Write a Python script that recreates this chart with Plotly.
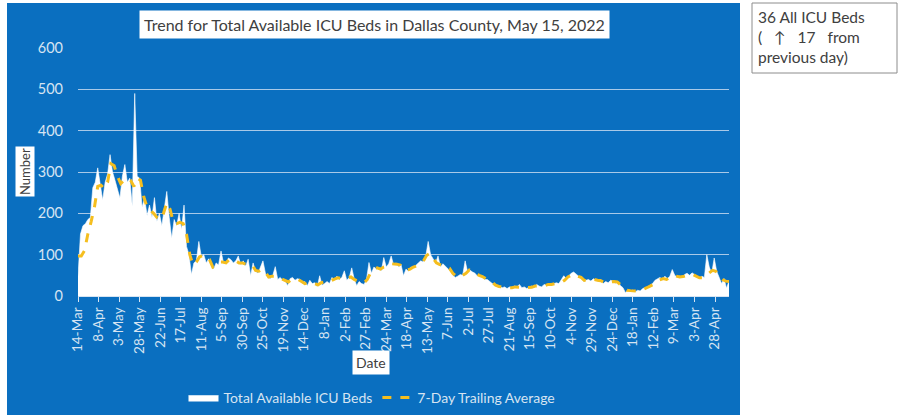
import pandas as pd
import plotly.graph_objects as go

# ---------------- data ----------------
start_date = "2020-03-14"
# daily total available ICU beds, sampled every 3 days
daily_beds = [
    47, 150, 170, 175, 185, 190, 262, 275, 310, 265,
    232, 275, 295, 342, 300, 280, 255, 237, 290, 318,
    275, 285, 217, 490, 290, 285, 215, 237, 195, 220,
    190, 238, 180, 200, 170, 215, 253, 190, 140, 185,
    170, 200, 160, 220, 120, 100, 52, 80, 85, 132,
    95, 100, 80, 90, 75, 65, 80, 75, 109, 80,
    78, 92, 88, 80, 85, 97, 75, 85, 72, 89,
    49, 80, 60, 55, 70, 85, 55, 45, 42, 50,
    71, 40, 45, 38, 36, 25, 42, 45, 38, 42,
    40, 30, 35, 25, 38, 30, 32, 22, 49, 26,
    30, 35, 30, 45, 38, 48, 40, 45, 61, 38,
    45, 68, 42, 25, 35, 30, 28, 40, 81, 55,
    70, 65, 69, 60, 93, 70, 78, 97, 75, 80,
    70, 76, 49, 65, 60, 70, 68, 75, 80, 85,
    82, 95, 132, 100, 90, 80, 97, 70, 78, 72,
    65, 60, 50, 45, 48, 52, 50, 85, 58, 62,
    58, 55, 48, 50, 45, 40, 40, 35, 30, 28,
    22, 24, 20, 22, 18, 22, 20, 24, 22, 28,
    20, 22, 18, 22, 24, 20, 28, 24, 22, 28,
    26, 30, 28, 30, 32, 30, 38, 49, 42, 50,
    55, 58, 52, 48, 45, 35, 38, 40, 36, 42,
    38, 35, 40, 30, 35, 32, 38, 36, 30, 35,
    25, 20, 8, 15, 12, 14, 10, 14, 12, 18,
    20, 22, 26, 30, 38, 42, 45, 40, 48, 42,
    48, 64, 50, 45, 48, 44, 52, 55, 50, 56,
    52, 45, 42, 48, 45, 100, 70, 55, 92, 60,
    45, 30, 42, 19, 36,
]
# 7-day trailing average, sampled every 4 days
avg_7day = [
    97, 97, 110, 150, 180, 215, 265, 268, 260, 275,
    320, 315, 290, 272, 280, 285, 280, 265, 285, 280,
    240, 215, 207, 200, 190, 185, 200, 225, 210, 178,
    175, 178, 175, 150, 100, 75, 82, 95, 98, 90,
    88, 70, 75, 82, 82, 80, 88, 85, 85, 80,
    80, 77, 77, 75, 62, 60, 65, 58, 46, 48,
    48, 44, 40, 36, 34, 40, 40, 40, 35, 30,
    32, 33, 30, 27, 32, 34, 33, 38, 41, 44,
    43, 41, 44, 46, 40, 37, 33, 32, 40, 56,
    65, 68, 65, 70, 72, 78, 78, 77, 75, 65,
    63, 65, 70, 73, 80, 84, 98, 103, 92, 80,
    76, 75, 70, 67, 55, 48, 45, 50, 55, 63,
    60, 56, 50, 47, 42, 38, 33, 26, 23, 22,
    20, 20, 20, 22, 22, 21, 20, 20, 21, 24,
    24, 24, 25, 28, 28, 30, 31, 33, 38, 46,
    50, 53, 48, 45, 38, 36, 38, 40, 38, 37,
    33, 32, 34, 35, 34, 28, 22, 14, 13, 12,
    12, 13, 16, 20, 24, 28, 36, 40, 42, 40,
    45, 50, 48, 46, 47, 50, 52, 52, 48, 44,
    44, 50, 55, 62, 60, 48, 40, 36, 35,
]
title_text = "Trend for Total Available ICU Beds in Dallas County, May 15, 2022"
series_names = ["Total Available ICU Beds", "7-Day Trailing Average"]
box_lines = ["36 All ICU Beds", "(&nbsp;&nbsp;&nbsp;↑&nbsp;&nbsp;&nbsp;17&nbsp;&nbsp;&nbsp;from", "previous day)"]

daily_dates = pd.date_range(start_date, periods=len(daily_beds), freq="3D")
avg_dates = pd.date_range(start_date, periods=len(avg_7day), freq="4D")

# ---------------- styling ----------------
W, H = 899, 415
L, R, T, B = 78, 729, 48, 296      # plot area in pixels
BLUE = "#0A6FC0"
LIGHT = "#D6E4F2"
GOLD = "#F5BE1E"
DARK = "#404040"
FONT = "Lato"

def px(x):   # pixel -> paper x (paper = plot area)
    return (x - L) / (R - L)

def py(y):   # pixel -> paper y
    return (B - y) / (B - T)

fig = go.Figure()
fig.add_trace(go.Scatter(
    x=daily_dates, y=daily_beds, name=series_names[0], mode="lines",
    line=dict(color="white", width=0.6), fill="tozeroy", fillcolor="white",
))
fig.add_trace(go.Scatter(
    x=avg_dates, y=avg_7day, name=series_names[1], mode="lines",
    line=dict(color=GOLD, width=3, dash="dash"),
))

fig.update_layout(
    width=W, height=H,
    margin=dict(l=L, r=W - R, t=T, b=H - B, autoexpand=False),
    paper_bgcolor="white", plot_bgcolor=BLUE,
    font=dict(family=FONT, color=LIGHT, size=13),
    showlegend=True,
    legend=dict(orientation="h", x=px(372), y=py(398), xanchor="center", yanchor="middle",
                bgcolor="rgba(0,0,0,0)", font=dict(size=14, color=LIGHT, family=FONT),
                itemwidth=30, traceorder="normal"),
    xaxis=dict(
        range=[pd.Timestamp("2020-03-14"), pd.Timestamp("2022-05-15")],
        tick0="2020-03-14", dtick=25 * 86400000, tickformat="%-d-%b",
        tickangle=-90, ticks="outside", ticklen=5, tickcolor=LIGHT,
        showline=True, linecolor=LIGHT, linewidth=1, showgrid=False,
        tickfont=dict(size=13.5, color=LIGHT, family=FONT), zeroline=False,
    ),
    yaxis=dict(
        range=[0, 600], dtick=100, showgrid=True, gridcolor="#A9C9E8", gridwidth=1,
        zeroline=False, showline=False, ticks="", ticklabelstandoff=14,
        tickfont=dict(size=14.5, color=LIGHT, family=FONT),
    ),
    shapes=[
        dict(type="rect", xref="paper", yref="paper", x0=px(7), x1=px(740), y0=py(416), y1=py(3),
             fillcolor=BLUE, line=dict(width=0), layer="below"),
        dict(type="rect", xref="paper", yref="paper", x0=px(752), x1=px(897), y0=py(73), y1=py(3),
             fillcolor="white", line=dict(color="#8C8C8C", width=1)),
    ],
    annotations=[
        dict(text=title_text, xref="paper", yref="paper", x=px(374.5), y=py(24.5),
             xanchor="center", yanchor="middle",
             showarrow=False, bgcolor="white", borderpad=4,
             font=dict(size=16, color=DARK, family=FONT)),
        dict(text="Number", xref="paper", yref="paper", x=px(25), y=py(172), textangle=-90,
             xanchor="center", yanchor="middle",
             showarrow=False, bgcolor="white", borderpad=1,
             font=dict(size=13, color=DARK, family=FONT)),
        dict(text="Date", xref="paper", yref="paper", x=px(371), y=py(363),
             xanchor="center", yanchor="middle",
             showarrow=False, bgcolor="white", borderpad=3,
             font=dict(size=14, color=DARK, family=FONT)),
        dict(text="<br>".join(box_lines), xref="paper", yref="paper", x=px(756), y=py(6),
             xanchor="left", yanchor="top", align="left", showarrow=False,
             font=dict(size=15.5, color=DARK, family=FONT)),
    ],
)

fig.write_html("out.html", config={"displayModeBar": False},
               post_script="document.body.style.margin='0';")
